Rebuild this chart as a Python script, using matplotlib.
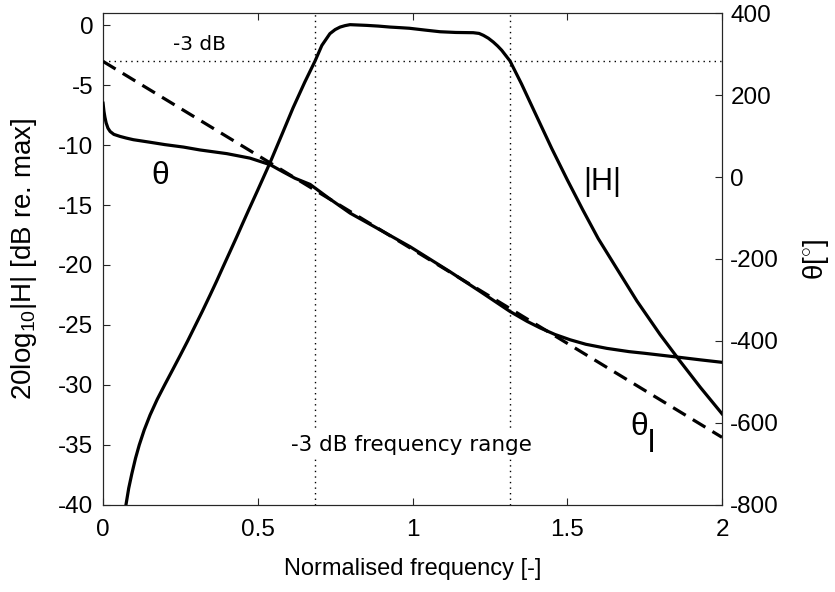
import matplotlib
matplotlib.use("Agg")
import matplotlib.pyplot as plt

plt.rcParams["font.family"] = ["Liberation Sans", "DejaVu Sans"]
plt.rcParams["mathtext.fontset"] = "custom"
plt.rcParams["mathtext.rm"] = "Liberation Sans"
plt.rcParams["mathtext.it"] = "Liberation Sans"
plt.rcParams["axes.unicode_minus"] = False

INK = "#262626"

# |H| in dB re. max, against normalised frequency
mag_freq = [0.074, 0.083, 0.093, 0.105, 0.117, 0.133, 0.152, 0.175, 0.2, 0.225,
            0.249, 0.273, 0.297, 0.321, 0.346, 0.366, 0.387, 0.41, 0.432, 0.45,
            0.47, 0.5, 0.54, 0.58, 0.614, 0.652, 0.685, 0.707, 0.733, 0.75,
            0.766, 0.782, 0.798, 0.825, 0.852, 0.89, 0.927, 0.96, 0.99, 1.04,
            1.089, 1.14, 1.196, 1.215, 1.229, 1.245, 1.261, 1.275, 1.288, 1.315,
            1.352, 1.39, 1.45, 1.5, 1.55, 1.6, 1.66, 1.725, 1.8,
            1.864, 1.93, 2.0]
mag_db = [-40.0, -38.6, -37.4, -36.1, -35.0, -33.75, -32.5, -31.2, -29.95, -28.73,
          -27.55, -26.35, -25.1, -23.85, -22.5, -21.4, -20.2, -18.9, -17.65, -16.6,
          -15.45, -13.75, -11.45, -9.0, -6.9, -4.75, -3.0, -1.7, -0.72, -0.38,
          -0.17, -0.05, 0.03, 0.0, -0.03, -0.09, -0.17, -0.22, -0.27, -0.42,
          -0.56, -0.62, -0.64, -0.7, -0.86, -1.1, -1.42, -1.75, -2.1, -3.0,
          -4.9, -7.0, -10.3, -12.9, -15.4, -17.8, -20.3, -23.0, -25.8,
          -28.0, -30.2, -32.4]

# phase theta in degrees
phase_freq = [0.0, 0.003, 0.006, 0.01, 0.016, 0.023, 0.035, 0.055, 0.075, 0.098,
              0.15, 0.2, 0.26, 0.313, 0.4, 0.475, 0.54, 0.583, 0.62, 0.669,
              0.73, 0.798, 0.9, 0.992, 1.121, 1.22, 1.315, 1.37, 1.412, 1.46,
              1.509, 1.56, 1.628, 1.7, 1.75, 1.864, 1.93, 2.0]
phase_deg = [180, 160, 146, 132, 119, 111, 104, 99, 95, 91,
             85, 79, 73, 66, 57, 46, 30, 12, -3, -18,
             -52, -88, -131, -170, -231, -280, -328, -352, -368, -384,
             -397, -408, -418, -426, -430, -440, -446, -452]

# linear phase theta_l
lin_freq = [0.0, 2.0]
lin_deg = [282, -635]

band_edges = [0.685, 1.315]
half_power_db = -3

fig = plt.figure(figsize=(8.35, 5.92), dpi=100)
ax = fig.add_axes([0.1234, 0.147, 0.7413, 0.831])
ax2 = ax.twinx()

ax.plot(mag_freq, mag_db, color="black", lw=2.3, zorder=3)
ax.axhline(half_power_db, color="black", ls=(0, (1, 3)), lw=1.0, zorder=1)
for edge in band_edges:
    ax.axvline(edge, color="black", ls=(0, (1, 3)), lw=1.0, zorder=1)

ax2.plot(phase_freq, phase_deg, color="black", lw=2.3, zorder=3)
ax2.plot(lin_freq, lin_deg, color="black", lw=2.3, ls=(0, (4.6, 2.6)), zorder=3)

ax.set_xlim(0, 2)
ax.set_ylim(-40, 1)
ax2.set_ylim(-800, 400)
ax.set_xticks([0, 0.5, 1, 1.5, 2])
ax.set_xticklabels(["0", "0.5", "1", "1.5", "2"])
ax.set_yticks(range(-40, 1, 5))
ax2.set_yticks(range(-800, 401, 200))

for a in (ax, ax2):
    a.tick_params(direction="in", length=5, width=0.8, colors=INK,
                  labelsize=17.5, labelcolor="black")
    for sp in a.spines.values():
        sp.set_color(INK)
        sp.set_linewidth(0.8)
ax.tick_params(axis="x", top=True, pad=10)
ax.tick_params(axis="y", pad=7)
ax2.tick_params(axis="y", pad=6)

ax.set_xlabel("Normalised frequency [-]", fontsize=17, labelpad=12)
ax.set_ylabel("20log$_{10}$|H| [dB re. max]", fontsize=20, labelpad=14)
ax2.set_ylabel("θ[$^{\\circ}$]", fontsize=20, labelpad=16)

ax.text(0.184, -12.6, "θ", fontsize=23, ha="center", va="center")
ax.text(1.612, -13.1, "|H|", fontsize=22, ha="center", va="center")
ax.text(1.733, -33.5, "θ", fontsize=23, ha="center", va="center")
ax.text(1.772, -34.9, "l", fontsize=23, ha="center", va="center")
ax.text(0.313, -1.65, "-3 dB", fontsize=14.5, family="DejaVu Sans",
        ha="center", va="center")
ax.text(0.997, -35.0, "-3 dB frequency range", fontsize=15.5,
        family="DejaVu Sans", ha="center", va="center", zorder=4,
        bbox=dict(facecolor="white", edgecolor="none", pad=3))

fig.savefig("out.png", dpi=100)
